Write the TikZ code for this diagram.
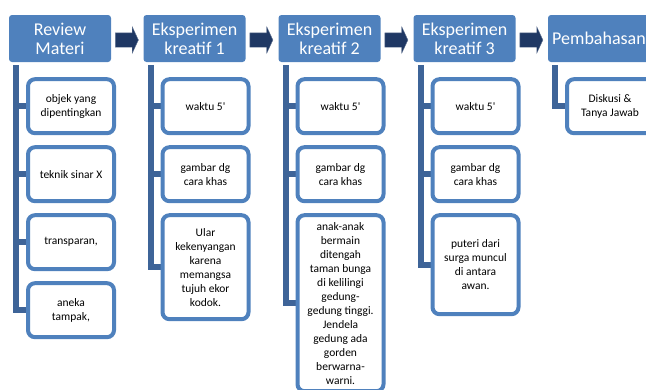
\documentclass[tikz,border=0pt]{standalone}
\usepackage{fontspec}
\setmainfont{Carlito}
\usetikzlibrary{positioning,shapes.arrows,backgrounds}
\definecolor{stageblue}{RGB}{79,129,189}
\definecolor{spineblue}{RGB}{62,100,152}
\definecolor{arrownavy}{RGB}{31,56,100}

\begin{document}
\begin{tikzpicture}[x=1pt,y=1pt,node distance=10pt,
  stage/.style={rectangle,rounded corners=3pt,fill=stageblue,text=white,align=center,
    minimum width=102pt,minimum height=47pt,inner sep=1pt,font=\fontsize{18}{19}\selectfont},
  item/.style={rectangle,rounded corners=7pt,draw=stageblue,line width=4pt,fill=white,align=center,
    minimum width=86pt,minimum height=54pt,inner sep=1pt,font=\fontsize{11.5}{14}\selectfont},
  flow/.style={single arrow,fill=arrownavy,draw=arrownavy!70!white,line width=0.4pt,
    minimum height=23pt,inner xsep=0pt,inner ysep=7pt,single arrow head extend=6pt,single arrow tip angle=130},
  spine/.style={draw=spineblue,line width=6pt}]

 \useasboundingbox (0,0) rectangle (646,-389);

 % stages
 \node[stage] (h1) at (60,-38.5) {Review\\Materi};
 \node[stage] (h2) at (194.5,-38.5) {Eksperimen\\kreatif 1};
 \node[stage] (h3) at (329.5,-38.5) {Eksperimen\\kreatif 2};
 \node[stage] (h4) at (464.5,-38.5) {Eksperimen\\kreatif 3};
 \node[stage] (h5) at (599,-38.5) {Pembahasan};

 \node[flow,right=4pt of h1,yshift=-1.5pt] (a1) {};
 \node[flow,right=4pt of h2,yshift=-1.5pt] (a2) {};
 \node[flow,right=4pt of h3,yshift=-1.5pt] (a3) {};
 \node[flow,right=4pt of h4,yshift=-1.5pt] (a4) {};

 % items
 \node[item,below=15pt of h1.south,xshift=11pt] (c11) {objek yang\\dipentingkan};
 \node[item,below=of c11] (c12) {teknik sinar X};
 \node[item,below=of c12] (c13) {transparan,};
 \node[item,below=of c13] (c14) {aneka\\tampak,};

 \node[item,below=15pt of h2.south,xshift=11pt] (c21) {waktu 5\textquotesingle};
 \node[item,below=of c21] (c22) {gambar dg\\cara khas};
 \node[item,below=of c22,minimum height=104pt] (c23) {Ular\\kekenyangan\\karena\\memangsa\\tujuh ekor\\kodok.};

 \node[item,below=15pt of h3.south,xshift=11pt] (c31) {waktu 5\textquotesingle};
 \node[item,below=of c31] (c32) {gambar dg\\cara khas};
 \node[item,below=of c32,minimum height=176pt] (c33) {anak-anak\\bermain\\ditengah\\taman bunga\\di kelilingi\\gedung-\\gedung tinggi.\\Jendela\\gedung ada\\gorden\\berwarna-\\warni.};

 \node[item,below=15pt of h4.south,xshift=11pt] (c41) {waktu 5\textquotesingle};
 \node[item,below=of c41] (c42) {gambar dg\\cara khas};
 \node[item,below=of c42,minimum height=99pt] (c43) {puteri dari\\surga muncul\\di antara\\awan.};

 \node[item,below=15pt of h5.south,xshift=11pt] (c51) {Diskusi \&\\Tanya Jawab};

 % spines
 \begin{scope}[on background layer]
  \coordinate (s1) at ([xshift=7.5pt,yshift=-3pt]h1.south west);
  \coordinate (s2) at ([xshift=7.5pt,yshift=-3pt]h2.south west);
  \coordinate (s3) at ([xshift=7.5pt,yshift=-3pt]h3.south west);
  \coordinate (s4) at ([xshift=7.5pt,yshift=-3pt]h4.south west);
  \coordinate (s5) at ([xshift=7.5pt,yshift=-3pt]h5.south west);
  \draw[spine] (s1) |- (c14.west);
  \draw[spine] (c11.west) -- (s1 |- c11.west);
  \draw[spine] (c12.west) -- (s1 |- c12.west);
  \draw[spine] (c13.west) -- (s1 |- c13.west);
  \draw[spine] (s2) |- (c23.west);
  \draw[spine] (c21.west) -- (s2 |- c21.west);
  \draw[spine] (c22.west) -- (s2 |- c22.west);
  \draw[spine] (s3) |- (c33.west);
  \draw[spine] (c31.west) -- (s3 |- c31.west);
  \draw[spine] (c32.west) -- (s3 |- c32.west);
  \draw[spine] (s4) |- (c43.west);
  \draw[spine] (c41.west) -- (s4 |- c41.west);
  \draw[spine] (c42.west) -- (s4 |- c42.west);
  \draw[spine] (s5) |- (c51.west);
 \end{scope}

\end{tikzpicture}
\end{document}
